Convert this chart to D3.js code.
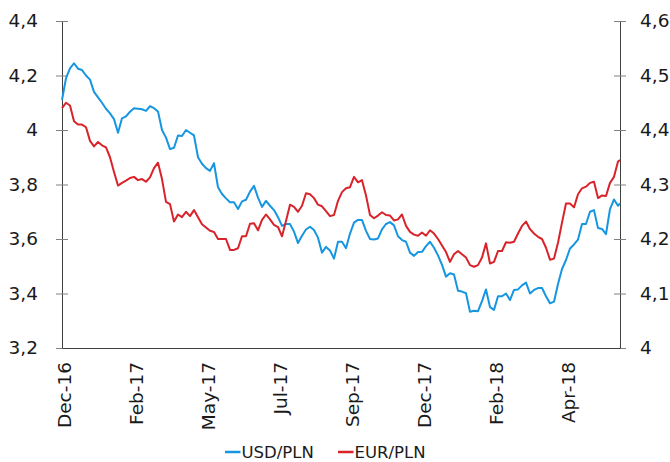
<!DOCTYPE html>
<meta charset="utf-8">
<style>
body { margin: 0; background: #fff; }
svg text { font-family: "DejaVu Sans", Verdana, sans-serif; }
.line { fill: none; stroke-width: 2px; stroke-linejoin: round; }
.axis path { stroke: #404040; }
.axis line { stroke: #808080; }
.axis text { fill: #1a1a1a; font-size: 18.5px; font-family: "DejaVu Sans", Verdana, sans-serif; }
.legend text { font-size: 16.5px; fill: #1a1a1a; }
</style>
<svg width="670" height="462"></svg>
<script src="https://cdn.jsdelivr.net/npm/d3@7"></script>
<script>
// sample dates (every 4 days)
var dates = [
  "2016-12-08","2016-12-12","2016-12-16","2016-12-20","2016-12-24","2016-12-28",
  "2017-01-01","2017-01-05","2017-01-09","2017-01-13","2017-01-17","2017-01-21","2017-01-25","2017-01-29",
  "2017-02-02","2017-02-06","2017-02-10","2017-02-14","2017-02-18","2017-02-22","2017-02-26",
  "2017-03-02","2017-03-06","2017-03-10","2017-03-14","2017-03-18","2017-03-22","2017-03-26","2017-03-30",
  "2017-04-03","2017-04-07","2017-04-11","2017-04-15","2017-04-19","2017-04-23","2017-04-27",
  "2017-05-01","2017-05-05","2017-05-09","2017-05-13","2017-05-17","2017-05-21","2017-05-25","2017-05-29",
  "2017-06-02","2017-06-06","2017-06-10","2017-06-14","2017-06-18","2017-06-22","2017-06-26","2017-06-30",
  "2017-07-04","2017-07-08","2017-07-12","2017-07-16","2017-07-20","2017-07-24","2017-07-28",
  "2017-08-01","2017-08-05","2017-08-09","2017-08-13","2017-08-17","2017-08-21","2017-08-25","2017-08-29",
  "2017-09-02","2017-09-06","2017-09-10","2017-09-14","2017-09-18","2017-09-22","2017-09-26","2017-09-30",
  "2017-10-04","2017-10-08","2017-10-12","2017-10-16","2017-10-20","2017-10-24","2017-10-28",
  "2017-11-01","2017-11-05","2017-11-09","2017-11-13","2017-11-17","2017-11-21","2017-11-25","2017-11-29",
  "2017-12-03","2017-12-07","2017-12-11","2017-12-15","2017-12-19","2017-12-23","2017-12-27","2017-12-31",
  "2018-01-04","2018-01-08","2018-01-12","2018-01-16","2018-01-20","2018-01-24","2018-01-28",
  "2018-02-01","2018-02-05","2018-02-09","2018-02-13","2018-02-17","2018-02-21","2018-02-25",
  "2018-03-01","2018-03-05","2018-03-09","2018-03-13","2018-03-17","2018-03-21","2018-03-25","2018-03-29",
  "2018-04-02","2018-04-06","2018-04-10","2018-04-14","2018-04-18","2018-04-22","2018-04-26","2018-04-30",
  "2018-05-04","2018-05-08","2018-05-12","2018-05-16","2018-05-20","2018-05-24","2018-05-28",
  "2018-06-01","2018-06-05","2018-06-09","2018-06-13","2018-06-17","2018-06-19"
];

// USD/PLN, left axis
var usd = [
  4.11,4.19,4.226,4.245,4.225,4.22,4.20,4.185,4.14,4.12,
  4.10,4.078,4.061,4.04,3.99,4.043,4.05,4.067,4.08,4.078,
  4.076,4.07,4.088,4.08,4.068,4.00,3.972,3.93,3.935,3.98,
  3.978,4.00,3.99,3.98,3.90,3.876,3.86,3.85,3.878,3.79,
  3.765,3.749,3.735,3.735,3.71,3.738,3.744,3.774,3.795,3.752,
  3.718,3.74,3.722,3.706,3.68,3.648,3.655,3.655,3.627,3.585,
  3.612,3.635,3.645,3.633,3.605,3.55,3.571,3.558,3.528,3.59,
  3.59,3.566,3.62,3.66,3.67,3.67,3.63,3.60,3.598,3.602,
  3.635,3.655,3.662,3.65,3.61,3.596,3.59,3.55,3.538,3.552,
  3.553,3.574,3.59,3.568,3.54,3.505,3.462,3.474,3.47,3.41,
  3.407,3.401,3.333,3.337,3.335,3.372,3.415,3.35,3.34,3.39,
  3.39,3.40,3.376,3.413,3.415,3.43,3.44,3.40,3.413,3.42,
  3.42,3.39,3.364,3.37,3.435,3.49,3.523,3.565,3.58,3.598,
  3.655,3.655,3.70,3.706,3.64,3.637,3.618,3.71,3.745,3.722,
  3.731
];

// EUR/PLN, right axis
var eur = [
  4.44,4.45,4.445,4.416,4.41,4.41,4.405,4.38,4.37,4.378,
  4.372,4.368,4.35,4.323,4.298,4.303,4.307,4.312,4.314,4.308,
  4.31,4.305,4.313,4.33,4.34,4.31,4.268,4.264,4.232,4.245,
  4.24,4.25,4.242,4.253,4.24,4.227,4.221,4.215,4.213,4.20,
  4.20,4.20,4.18,4.18,4.183,4.205,4.205,4.228,4.229,4.216,
  4.235,4.245,4.236,4.226,4.222,4.205,4.233,4.263,4.259,4.25,
  4.261,4.284,4.282,4.275,4.263,4.26,4.251,4.242,4.244,4.27,
  4.286,4.293,4.295,4.314,4.304,4.308,4.28,4.244,4.238,4.243,
  4.249,4.244,4.243,4.234,4.236,4.245,4.224,4.213,4.208,4.206,
  4.212,4.206,4.216,4.21,4.20,4.188,4.176,4.158,4.172,4.178,
  4.172,4.166,4.152,4.149,4.152,4.166,4.192,4.155,4.158,4.178,
  4.178,4.194,4.193,4.195,4.21,4.224,4.232,4.218,4.21,4.204,
  4.20,4.184,4.162,4.164,4.193,4.23,4.265,4.265,4.258,4.282,
  4.293,4.296,4.303,4.305,4.275,4.28,4.279,4.303,4.314,4.342,
  4.345
];

var tickDates = ["2016-12-08","2017-02-18","2017-05-01","2017-07-12","2017-09-22","2017-12-03","2018-02-13","2018-04-26"];
var leftTicks = [3.2, 3.4, 3.6, 3.8, 4.0, 4.2, 4.4];
var rightTicks = [4.0, 4.1, 4.2, 4.3, 4.4, 4.5, 4.6];
var seriesNames = ["USD/PLN", "EUR/PLN"];
var colors = ["#1696e0", "#d9232a"];

var svg = d3.select("svg"),
    margin = {top: 21, right: 50, bottom: 114, left: 62},
    width = +svg.attr("width") - margin.left - margin.right,
    height = +svg.attr("height") - margin.top - margin.bottom;

var parse = d3.timeParse("%Y-%m-%d");
var fmtNum = function(d) { return String(+d.toFixed(1)).replace(".", ","); };

var x = d3.scaleTime()
    .domain([parse(dates[0]), parse(dates[dates.length - 1])])
    .range([0, width]);
var yL = d3.scaleLinear().domain([3.2, 4.4]).range([height, 0]);
var yR = d3.scaleLinear().domain([4.0, 4.6]).range([height, 0]);

var g = svg.append("g")
    .attr("transform", "translate(" + margin.left + "," + margin.top + ")");

// left axis
var la = g.append("g")
    .attr("class", "axis")
    .call(d3.axisLeft(yL).tickValues(leftTicks).tickFormat(fmtNum).tickSizeOuter(0).tickSize(6).tickPadding(18));
la.selectAll(".tick line").attr("x1", 6);

// right axis
var ra = g.append("g")
    .attr("class", "axis")
    .attr("transform", "translate(" + width + ",0)")
    .call(d3.axisRight(yR).tickValues(rightTicks).tickFormat(fmtNum).tickSizeOuter(0).tickSize(6).tickPadding(14));
ra.selectAll(".tick line").attr("x1", -6);

// bottom axis
var xa = g.append("g")
    .attr("class", "axis")
    .attr("transform", "translate(0," + height + ")")
    .call(d3.axisBottom(x).tickValues(tickDates.map(parse)).tickFormat(d3.timeFormat("%b-%y")).tickSize(0).tickSizeOuter(0));
xa.selectAll(".tick text")
    .attr("text-anchor", "end")
    .attr("transform", "translate(2,14) rotate(-90)")
    .attr("x", 0)
    .attr("y", 0)
    .attr("dy", "0.35em");

var lineL = d3.line()
    .x(function(d, i) { return x(parse(dates[i])); })
    .y(function(d) { return yL(d); });
var lineR = d3.line()
    .x(function(d, i) { return x(parse(dates[i])); })
    .y(function(d) { return yR(d); });

g.append("path").datum(usd).attr("class", "line").attr("stroke", colors[0]).attr("d", lineL);
g.append("path").datum(eur).attr("class", "line").attr("stroke", colors[1]).attr("d", lineR);

// legend
var legend = svg.append("g").attr("class", "legend").attr("transform", "translate(225,452)");
var items = legend.selectAll("g").data(seriesNames).enter().append("g")
    .attr("transform", function(d, i) { return "translate(" + (i * 113) + ",0)"; });
items.append("line")
    .attr("x1", 0).attr("x2", 15.5).attr("y1", 0).attr("y2", 0)
    .attr("stroke-width", 2.5)
    .attr("stroke", function(d, i) { return colors[i]; });
items.append("text")
    .attr("x", 16.5).attr("y", 5.5)
    .text(function(d) { return d; });
</script>
